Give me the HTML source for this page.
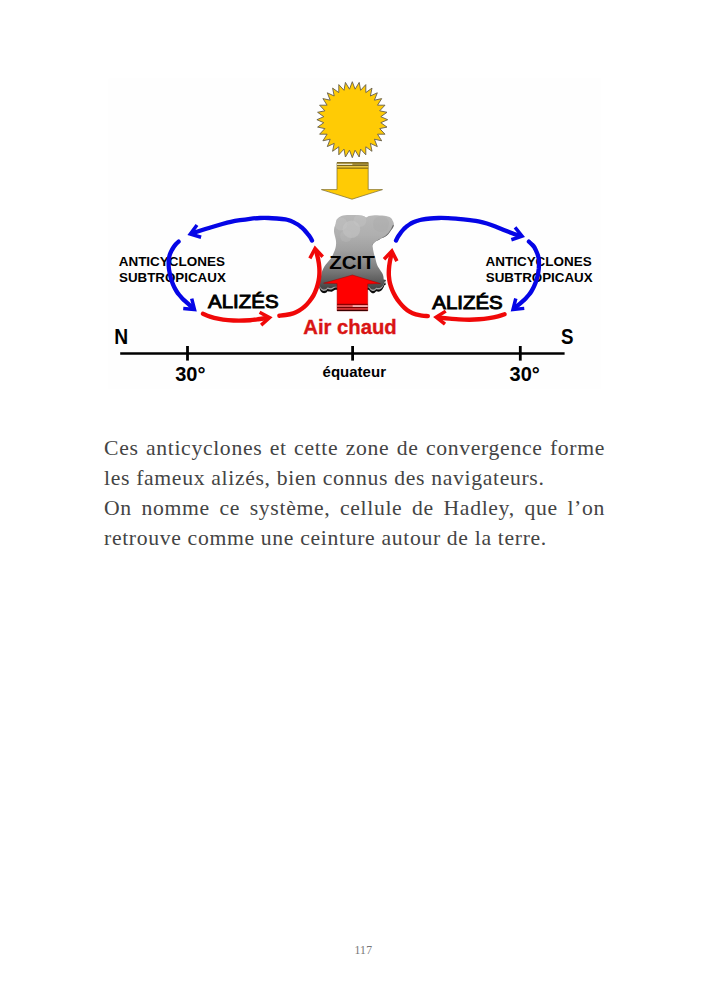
<!DOCTYPE html>
<html><head><meta charset="utf-8">
<style>
html,body{margin:0;padding:0;background:#fff;}
body{width:709px;height:992px;position:relative;overflow:hidden;font-family:"Liberation Serif",serif;}
svg{position:absolute;left:0;top:0;}
.t{position:absolute;left:104px;width:501px;font-family:"Liberation Serif",serif;font-size:21.7px;line-height:30px;color:#444;letter-spacing:0.66px;white-space:nowrap;}
.j{text-align:justify;text-align-last:justify;}
.pn{position:absolute;left:354.4px;top:943.4px;font-family:"Liberation Serif",serif;font-size:11.7px;line-height:16px;color:#777;letter-spacing:0.3px;}
</style></head><body>
<svg width="709" height="992" viewBox="0 0 709 992">
<defs>
<linearGradient id="cg" x1="0" y1="215" x2="0" y2="293" gradientUnits="userSpaceOnUse">
<stop offset="0" stop-color="#b8b8b8"/><stop offset="0.26" stop-color="#afafaf"/><stop offset="0.45" stop-color="#a0a0a0"/><stop offset="0.6" stop-color="#8c8c8c"/><stop offset="0.73" stop-color="#757575"/><stop offset="0.83" stop-color="#606060"/><stop offset="0.91" stop-color="#4c4c4c"/><stop offset="1" stop-color="#3c3c3c"/>
</linearGradient>
<clipPath id="cc"><path d="M335.6,223.9 C335.9,222.7 336.0,221.4 336.3,220.5 C336.6,219.6 337.1,219.2 337.7,218.6 C338.3,218.0 339.1,217.3 340.0,216.8 C340.9,216.3 341.8,215.9 343.0,215.6 C344.2,215.3 345.6,215.1 347.0,215.0 C348.4,214.9 349.9,214.9 351.4,214.9 C352.9,214.9 354.6,214.9 356.0,214.9 C357.4,214.9 358.6,215.0 359.9,215.2 C361.1,215.4 362.4,215.7 363.5,216.0 C364.6,216.3 365.4,217.3 366.3,217.3 C367.2,217.3 367.9,216.3 369.0,216.0 C370.1,215.7 371.3,215.5 372.6,215.4 C373.9,215.3 375.4,215.2 377.0,215.2 C378.6,215.2 380.6,215.5 382.1,215.6 C383.6,215.7 384.8,215.8 386.0,216.0 C387.2,216.2 388.6,216.6 389.5,217.0 C390.4,217.4 391.0,218.0 391.5,218.6 C392.0,219.2 392.3,220.0 392.7,220.7 C393.1,221.4 393.5,222.2 393.7,223.0 C393.9,223.8 393.9,224.7 393.8,225.5 C393.7,226.3 393.2,227.2 392.8,228.0 C392.4,228.8 391.7,229.4 391.1,230.2 C390.5,231.0 390.0,232.0 389.4,232.8 C388.8,233.6 388.1,234.3 387.4,235.0 C386.7,235.7 385.9,236.3 385.0,236.8 C384.1,237.3 383.0,237.7 382.1,238.1 C381.2,238.5 380.4,238.9 379.5,239.4 C378.6,239.9 377.7,240.3 376.8,240.8 C375.9,241.3 375.1,241.9 374.4,242.5 C373.7,243.1 372.9,243.7 372.6,244.5 C372.3,245.3 372.7,246.5 372.8,247.5 C372.9,248.5 373.0,249.2 373.2,250.3 C373.4,251.4 373.7,252.8 374.0,254.0 C374.3,255.2 374.8,256.2 375.2,257.5 C375.6,258.8 375.8,260.6 376.2,262.0 C376.6,263.4 377.0,264.8 377.6,266.0 C378.2,267.2 379.1,268.4 379.8,269.5 C380.5,270.6 381.4,271.7 382.0,272.8 C382.6,273.9 383.0,274.9 383.3,276.0 C383.6,277.1 383.6,278.3 383.7,279.5 C383.8,280.7 383.8,281.9 383.6,283.0 C383.4,284.1 383.1,285.2 382.5,285.8 C381.9,286.4 382.4,286.4 380.0,286.6 C377.6,286.8 375.2,286.8 368.0,286.8 C360.8,286.8 344.5,286.8 337.0,286.8 C329.5,286.8 325.8,286.8 323.0,286.6 C320.2,286.4 320.6,286.3 320.0,285.8 C319.4,285.3 319.5,284.2 319.6,283.5 C319.7,282.8 320.2,282.6 320.4,281.5 C320.6,280.4 320.7,278.5 320.9,277.0 C321.1,275.5 321.3,274.0 321.7,272.6 C322.1,271.2 322.6,269.8 323.3,268.5 C324.0,267.2 324.7,265.9 325.6,264.7 C326.5,263.5 327.6,262.3 328.5,261.2 C329.4,260.1 330.2,259.4 331.0,258.3 C331.8,257.2 332.4,255.8 333.0,254.5 C333.6,253.2 334.3,251.6 334.8,250.3 C335.3,249.0 335.6,247.7 335.8,246.5 C336.0,245.3 336.1,243.9 336.1,242.9 C336.1,241.9 336.0,241.3 335.9,240.5 C335.8,239.7 335.6,239.0 335.4,238.0 C335.2,237.0 334.7,235.6 334.5,234.5 C334.3,233.4 334.0,232.5 334.0,231.3 C334.0,230.1 334.0,228.7 334.3,227.5 C334.6,226.3 335.3,225.1 335.6,223.9 Z"/></clipPath>
</defs>
<rect x="108.5" y="78.5" width="492.5" height="310.5" fill="#fefefe"/>
<!-- sun -->
<polygon points="352.3,81.7 355.1,89.2 359.2,82.4 360.6,90.3 365.8,84.6 365.8,92.6 372.0,88.1 370.4,96.0 377.3,92.8 374.4,100.2 381.7,98.6 377.5,105.2 385.0,105.2 379.7,110.8 387.0,112.3 380.8,116.7 387.7,119.7 380.8,122.7 387.0,127.1 379.7,128.6 385.0,134.2 377.5,134.2 381.7,140.8 374.4,139.2 377.3,146.6 370.4,143.4 372.0,151.3 365.8,146.8 365.8,154.8 360.6,149.1 359.2,157.0 355.1,150.2 352.3,157.7 349.5,150.2 345.4,157.0 344.0,149.1 338.8,154.8 338.8,146.8 332.6,151.3 334.2,143.4 327.3,146.6 330.2,139.2 322.9,140.8 327.1,134.2 319.6,134.2 324.9,128.6 317.6,127.1 323.8,122.7 316.9,119.7 323.8,116.7 317.6,112.3 324.9,110.8 319.6,105.2 327.1,105.2 322.9,98.6 330.2,100.2 327.3,92.8 334.2,96.0 332.6,88.1 338.8,92.6 338.8,84.6 344.0,90.3 345.4,82.4 349.5,89.2" fill="#ffcb05" stroke="#665e4c" stroke-width="0.9" stroke-linejoin="miter"/>
<!-- yellow arrow -->
<polygon points="337,162.6 368.2,162.6 368.2,189.6 382.5,189.6 352,199.2 321.4,189.6 337,189.6" fill="#ffcb05" stroke="#7a6a30" stroke-width="0.7"/>
<rect x="337" y="162.3" width="31.2" height="1.4" fill="#6e5c1e"/>
<rect x="337" y="163.7" width="15.5" height="1.3" fill="#ebe4c6"/>
<rect x="352.5" y="163.7" width="15.7" height="1.3" fill="#a08c44"/>
<rect x="337" y="165" width="31.2" height="1.3" fill="#7a6620"/>
<rect x="337" y="166.3" width="31.2" height="1.2" fill="#f2d25a"/>
<rect x="337" y="167.5" width="31.2" height="1.3" fill="#8a7018"/>
<!-- cloud -->
<path d="M319.2,285.0 C319.1,286.0 319.3,287.7 319.6,288.8 C319.9,289.9 320.6,291.1 321.2,291.8 C321.8,292.5 322.7,293.0 323.5,293.1 C324.3,293.2 325.3,293.0 326.0,292.7 C326.7,292.4 327.0,291.4 327.6,291.2 C328.2,291.0 328.8,291.5 329.5,291.6 C330.2,291.7 330.9,291.9 331.6,291.7 C332.4,291.5 333.1,290.7 334.0,290.4 C334.9,290.1 334.0,289.8 337.0,289.7 C340.0,289.6 346.9,289.7 352.0,289.7 C357.1,289.7 364.6,289.5 367.5,289.7 C370.4,289.9 368.9,290.5 369.6,291.0 C370.3,291.5 371.0,292.6 371.8,292.9 C372.6,293.2 373.6,293.2 374.4,292.9 C375.2,292.6 375.7,291.5 376.4,291.3 C377.1,291.1 377.7,291.8 378.4,291.7 C379.1,291.6 379.9,291.4 380.6,291.0 C381.3,290.6 382.0,289.8 382.6,289.0 C383.2,288.2 383.9,287.0 384.0,286.0 C384.1,285.0 388.8,283.7 383.5,283.0 C378.2,282.3 362.6,282.0 352.0,282.0 C341.4,282.0 325.5,282.5 320.0,283.0 C314.5,283.5 319.3,284.0 319.2,285.0 Z" fill="#0c0c0c"/>
<path d="M319.2,285.0 C319.1,286.0 319.3,287.7 319.6,288.8 C319.9,289.9 320.6,291.1 321.2,291.8 C321.8,292.5 322.7,293.0 323.5,293.1 C324.3,293.2 325.3,293.0 326.0,292.7 C326.7,292.4 327.0,291.4 327.6,291.2 C328.2,291.0 328.8,291.5 329.5,291.6 C330.2,291.7 330.9,291.9 331.6,291.7 C332.4,291.5 333.1,290.7 334.0,290.4 C334.9,290.1 334.0,289.8 337.0,289.7 C340.0,289.6 346.9,289.7 352.0,289.7 C357.1,289.7 364.6,289.5 367.5,289.7 C370.4,289.9 368.9,290.5 369.6,291.0 C370.3,291.5 371.0,292.6 371.8,292.9 C372.6,293.2 373.6,293.2 374.4,292.9 C375.2,292.6 375.7,291.5 376.4,291.3 C377.1,291.1 377.7,291.8 378.4,291.7 C379.1,291.6 379.9,291.4 380.6,291.0 C381.3,290.6 382.0,289.8 382.6,289.0 C383.2,288.2 383.9,287.0 384.0,286.0 C384.1,285.0 388.8,283.7 383.5,283.0 C378.2,282.3 362.6,282.0 352.0,282.0 C341.4,282.0 325.5,282.5 320.0,283.0 C314.5,283.5 319.3,284.0 319.2,285.0 Z" fill="#a2a2a2" transform="translate(0,-2.1)"/>
<path d="M319.2,285.0 C319.1,286.0 319.3,287.7 319.6,288.8 C319.9,289.9 320.6,291.1 321.2,291.8 C321.8,292.5 322.7,293.0 323.5,293.1 C324.3,293.2 325.3,293.0 326.0,292.7 C326.7,292.4 327.0,291.4 327.6,291.2 C328.2,291.0 328.8,291.5 329.5,291.6 C330.2,291.7 330.9,291.9 331.6,291.7 C332.4,291.5 333.1,290.7 334.0,290.4 C334.9,290.1 334.0,289.8 337.0,289.7 C340.0,289.6 346.9,289.7 352.0,289.7 C357.1,289.7 364.6,289.5 367.5,289.7 C370.4,289.9 368.9,290.5 369.6,291.0 C370.3,291.5 371.0,292.6 371.8,292.9 C372.6,293.2 373.6,293.2 374.4,292.9 C375.2,292.6 375.7,291.5 376.4,291.3 C377.1,291.1 377.7,291.8 378.4,291.7 C379.1,291.6 379.9,291.4 380.6,291.0 C381.3,290.6 382.0,289.8 382.6,289.0 C383.2,288.2 383.9,287.0 384.0,286.0 C384.1,285.0 388.8,283.7 383.5,283.0 C378.2,282.3 362.6,282.0 352.0,282.0 C341.4,282.0 325.5,282.5 320.0,283.0 C314.5,283.5 319.3,284.0 319.2,285.0 Z" fill="#484848" transform="translate(0,-3.6)"/>
<path d="M335.6,223.9 C335.9,222.7 336.0,221.4 336.3,220.5 C336.6,219.6 337.1,219.2 337.7,218.6 C338.3,218.0 339.1,217.3 340.0,216.8 C340.9,216.3 341.8,215.9 343.0,215.6 C344.2,215.3 345.6,215.1 347.0,215.0 C348.4,214.9 349.9,214.9 351.4,214.9 C352.9,214.9 354.6,214.9 356.0,214.9 C357.4,214.9 358.6,215.0 359.9,215.2 C361.1,215.4 362.4,215.7 363.5,216.0 C364.6,216.3 365.4,217.3 366.3,217.3 C367.2,217.3 367.9,216.3 369.0,216.0 C370.1,215.7 371.3,215.5 372.6,215.4 C373.9,215.3 375.4,215.2 377.0,215.2 C378.6,215.2 380.6,215.5 382.1,215.6 C383.6,215.7 384.8,215.8 386.0,216.0 C387.2,216.2 388.6,216.6 389.5,217.0 C390.4,217.4 391.0,218.0 391.5,218.6 C392.0,219.2 392.3,220.0 392.7,220.7 C393.1,221.4 393.5,222.2 393.7,223.0 C393.9,223.8 393.9,224.7 393.8,225.5 C393.7,226.3 393.2,227.2 392.8,228.0 C392.4,228.8 391.7,229.4 391.1,230.2 C390.5,231.0 390.0,232.0 389.4,232.8 C388.8,233.6 388.1,234.3 387.4,235.0 C386.7,235.7 385.9,236.3 385.0,236.8 C384.1,237.3 383.0,237.7 382.1,238.1 C381.2,238.5 380.4,238.9 379.5,239.4 C378.6,239.9 377.7,240.3 376.8,240.8 C375.9,241.3 375.1,241.9 374.4,242.5 C373.7,243.1 372.9,243.7 372.6,244.5 C372.3,245.3 372.7,246.5 372.8,247.5 C372.9,248.5 373.0,249.2 373.2,250.3 C373.4,251.4 373.7,252.8 374.0,254.0 C374.3,255.2 374.8,256.2 375.2,257.5 C375.6,258.8 375.8,260.6 376.2,262.0 C376.6,263.4 377.0,264.8 377.6,266.0 C378.2,267.2 379.1,268.4 379.8,269.5 C380.5,270.6 381.4,271.7 382.0,272.8 C382.6,273.9 383.0,274.9 383.3,276.0 C383.6,277.1 383.6,278.3 383.7,279.5 C383.8,280.7 383.8,281.9 383.6,283.0 C383.4,284.1 383.1,285.2 382.5,285.8 C381.9,286.4 382.4,286.4 380.0,286.6 C377.6,286.8 375.2,286.8 368.0,286.8 C360.8,286.8 344.5,286.8 337.0,286.8 C329.5,286.8 325.8,286.8 323.0,286.6 C320.2,286.4 320.6,286.3 320.0,285.8 C319.4,285.3 319.5,284.2 319.6,283.5 C319.7,282.8 320.2,282.6 320.4,281.5 C320.6,280.4 320.7,278.5 320.9,277.0 C321.1,275.5 321.3,274.0 321.7,272.6 C322.1,271.2 322.6,269.8 323.3,268.5 C324.0,267.2 324.7,265.9 325.6,264.7 C326.5,263.5 327.6,262.3 328.5,261.2 C329.4,260.1 330.2,259.4 331.0,258.3 C331.8,257.2 332.4,255.8 333.0,254.5 C333.6,253.2 334.3,251.6 334.8,250.3 C335.3,249.0 335.6,247.7 335.8,246.5 C336.0,245.3 336.1,243.9 336.1,242.9 C336.1,241.9 336.0,241.3 335.9,240.5 C335.8,239.7 335.6,239.0 335.4,238.0 C335.2,237.0 334.7,235.6 334.5,234.5 C334.3,233.4 334.0,232.5 334.0,231.3 C334.0,230.1 334.0,228.7 334.3,227.5 C334.6,226.3 335.3,225.1 335.6,223.9 Z" fill="url(#cg)"/>
<g clip-path="url(#cc)">
<circle cx="351.4" cy="229.2" r="8.8" fill="#c8c8c8" opacity="0.5"/>
<circle cx="341" cy="224" r="6.5" fill="#c6c6c6" opacity="0.4"/>
<circle cx="359.9" cy="220.5" r="6.5" fill="#c6c6c6" opacity="0.4"/>
<circle cx="346" cy="236" r="6" fill="#c0c0c0" opacity="0.3"/>
<circle cx="381" cy="224" r="8" fill="#a8a8a8" opacity="0.35"/>
<path d="M394,225 C392,231 388,236 382,239 C378,241 374.5,243 372.8,245.5" fill="none" stroke="#5c5c5c" stroke-width="2.2" opacity="0.85"/>
</g>
<!-- red block arrow -->
<polygon points="352.4,275 380.4,283.6 367.7,283.9 367.7,310.9 337.1,310.9 337.1,283.6 323.6,283.2" stroke="#a00000" stroke-width="0.5" fill="#ff0000"/>
<rect x="337.1" y="303.8" width="30.6" height="1.5" fill="#8a0000"/>
<rect x="337.1" y="305.3" width="15.4" height="1.6" fill="#e26060"/>
<rect x="352.5" y="305.3" width="15.2" height="1.6" fill="#ffd4d4"/>
<rect x="337.1" y="306.9" width="30.6" height="1.3" fill="#700000"/>
<rect x="337.1" y="308.2" width="30.6" height="1.6" fill="#d24040"/>
<rect x="337.1" y="309.8" width="30.6" height="1.2" fill="#3c0000"/>
<!-- text labels -->
<g font-family="Liberation Sans, sans-serif" fill="#000">
<text x="329.2" y="268.6" font-size="18.9" font-weight="bold" textLength="45.6" lengthAdjust="spacingAndGlyphs">ZCIT</text>
<text x="208" y="308.3" font-size="18.1" textLength="70.6" lengthAdjust="spacingAndGlyphs" stroke="#000" stroke-width="0.9">ALIZÉS</text>
<text x="432.3" y="309.3" font-size="17.7" textLength="70.4" lengthAdjust="spacingAndGlyphs" stroke="#000" stroke-width="0.9">ALIZÉS</text>
<g font-weight="bold">
<text x="118.7" y="265.7" font-size="13" textLength="106.2" lengthAdjust="spacingAndGlyphs">ANTICYCLONES</text>
<text x="119" y="282.3" font-size="13" textLength="106.8" lengthAdjust="spacingAndGlyphs">SUBTROPICAUX</text>
<text x="485.5" y="265.7" font-size="13" textLength="106.2" lengthAdjust="spacingAndGlyphs">ANTICYCLONES</text>
<text x="485.8" y="282.3" font-size="13" textLength="106.8" lengthAdjust="spacingAndGlyphs">SUBTROPICAUX</text>
<text x="114.3" y="343.8" font-size="21.2" textLength="13.9" lengthAdjust="spacingAndGlyphs">N</text>
<text x="560.9" y="344" font-size="21.5" textLength="12.5" lengthAdjust="spacingAndGlyphs">S</text>
<text x="175.2" y="380.9" font-size="21" textLength="30.3" lengthAdjust="spacingAndGlyphs">30°</text>
<text x="509.5" y="380.9" font-size="21" textLength="30.3" lengthAdjust="spacingAndGlyphs">30°</text>
<text x="322.6" y="377" font-size="14.5" textLength="63.4" lengthAdjust="spacingAndGlyphs">équateur</text>
<text x="303.3" y="333.6" font-size="20" fill="#d91414" stroke="#d91414" stroke-width="0.35" textLength="93.4" lengthAdjust="spacingAndGlyphs">Air chaud</text>
</g>
</g>
<!-- axis -->
<g stroke="#000" fill="none">
<line x1="120.2" y1="353.5" x2="564.6" y2="353.5" stroke-width="2.4"/>
<line x1="187.5" y1="346" x2="187.5" y2="360.6" stroke-width="2.8"/>
<line x1="352.6" y1="346" x2="352.6" y2="360.6" stroke-width="2.8"/>
<line x1="520.3" y1="346" x2="520.3" y2="360.6" stroke-width="2.8"/>
</g>
<g stroke="#0505e6" stroke-width="4.3" fill="none" stroke-linecap="round" stroke-linejoin="round">
<path d="M312.0,240.6 C311.7,240.0 310.8,238.1 310.0,236.9 C309.2,235.8 308.3,234.8 307.4,233.7 C306.5,232.6 305.6,231.4 304.6,230.3 C303.6,229.2 302.6,228.3 301.5,227.3 C300.4,226.3 299.1,225.3 297.8,224.5 C296.5,223.7 295.2,223.0 293.8,222.3 C292.4,221.7 291.1,221.1 289.7,220.6 C288.3,220.1 287.5,219.7 285.4,219.3 C283.3,219.0 279.7,218.7 276.9,218.5 C274.1,218.3 271.3,218.1 268.5,218.0 C265.7,217.9 263.1,217.9 260.0,218.0 C256.9,218.1 253.3,218.4 250.0,218.8 C246.7,219.2 243.2,219.7 240.0,220.2 C236.8,220.7 233.8,221.2 230.8,221.8 C227.9,222.4 225.1,223.2 222.3,224.0 C219.5,224.8 216.6,225.7 213.8,226.5 C211.0,227.3 208.2,228.1 205.4,229.0 C202.6,229.9 199.0,231.1 196.9,231.8 C194.8,232.5 193.7,232.9 193.0,233.1 "/>
<path d="M178.6,241.6 C178.1,242.0 176.6,243.3 175.8,244.2 C175.0,245.1 174.4,245.9 173.7,247.0 C173.0,248.1 172.2,249.4 171.5,250.7 C170.8,252.0 170.2,253.3 169.8,254.7 C169.4,256.1 169.0,257.6 168.8,259.0 C168.6,260.4 168.6,261.7 168.6,263.3 C168.6,264.9 168.7,266.8 168.9,268.5 C169.1,270.2 169.5,271.9 169.8,273.5 C170.1,275.1 170.5,276.7 170.9,278.3 C171.3,279.9 171.8,281.4 172.4,282.9 C173.0,284.4 173.6,285.9 174.3,287.3 C175.0,288.7 175.9,290.2 176.7,291.5 C177.5,292.8 178.4,293.9 179.3,295.0 C180.2,296.1 181.3,297.4 182.3,298.4 C183.3,299.4 184.2,300.3 185.2,301.2 C186.2,302.1 187.1,302.9 188.3,303.9 C189.5,304.9 191.6,306.8 192.3,307.4 "/>
<path d="M396.0,240.6 C396.3,239.9 397.2,237.9 398.0,236.6 C398.8,235.3 399.8,234.0 400.7,232.8 C401.6,231.6 402.5,230.5 403.5,229.4 C404.5,228.3 405.6,227.4 406.6,226.5 C407.7,225.6 408.7,224.9 409.8,224.2 C410.9,223.5 412.1,222.9 413.4,222.3 C414.7,221.7 416.1,221.2 417.5,220.8 C418.9,220.4 419.7,220.1 421.8,219.7 C423.9,219.3 427.5,218.8 430.3,218.5 C433.1,218.2 435.9,218.1 438.8,218.0 C441.8,217.9 444.8,218.0 448.0,218.1 C451.2,218.2 454.3,218.5 458.0,218.8 C461.7,219.2 466.6,219.8 470.0,220.2 C473.4,220.6 475.7,220.8 478.5,221.4 C481.3,222.0 484.1,222.7 486.9,223.5 C489.7,224.3 492.6,225.4 495.4,226.5 C498.2,227.6 501.0,228.8 503.8,229.9 C506.6,231.0 509.8,232.4 512.3,233.3 C514.8,234.2 517.9,235.2 519.0,235.6 "/>
<path d="M528.9,241.6 C529.4,242.0 530.8,243.3 531.7,244.2 C532.6,245.1 533.5,245.9 534.2,247.0 C534.9,248.1 535.4,249.4 536.0,250.7 C536.6,252.0 537.2,253.3 537.7,254.7 C538.2,256.1 538.6,257.6 538.8,259.0 C539.0,260.4 539.0,261.7 539.0,263.3 C539.0,264.9 538.9,266.8 538.8,268.5 C538.6,270.2 538.4,271.9 538.1,273.5 C537.8,275.1 537.4,276.7 537.0,278.3 C536.6,279.9 536.1,281.4 535.5,282.9 C534.9,284.4 534.3,285.9 533.6,287.3 C532.9,288.7 532.1,290.2 531.3,291.5 C530.5,292.8 529.6,293.9 528.7,295.0 C527.8,296.1 526.7,297.4 525.7,298.4 C524.7,299.4 523.8,300.3 522.8,301.2 C521.8,302.1 520.9,302.9 519.7,303.9 C518.5,304.9 516.2,306.8 515.5,307.4 "/>
</g>
<g fill="#0505e6">
<polygon points="187.4,235.0 200.6,238.9 201.6,235.6 193.2,233.1 198.4,226.0 195.6,223.9"/>
<polygon points="196.8,311.6 193.4,298.2 190.0,299.1 192.2,307.6 183.4,306.8 183.1,310.2"/>
<polygon points="525.0,237.1 516.4,226.3 513.7,228.4 519.2,235.3 510.8,238.1 511.9,241.4"/>
<polygon points="510.7,311.5 524.4,310.1 524.1,306.7 515.3,307.5 517.5,299.0 514.1,298.1"/>
</g>
<g stroke="#f00808" stroke-width="4.4" fill="none" stroke-linecap="round" stroke-linejoin="round">
<path d="M203.0,313.8 C204.2,314.3 207.3,315.8 210.0,316.6 C212.7,317.5 216.1,318.3 219.1,318.9 C222.1,319.5 224.7,319.8 228.0,320.1 C231.3,320.4 235.2,320.6 238.9,320.6 C242.6,320.6 246.8,320.4 250.0,320.2 C253.2,320.0 255.2,319.7 258.0,319.3 C260.8,318.9 265.5,318.1 267.0,317.9 "/>
<path d="M279.4,315.7 C280.4,315.6 283.2,315.4 285.5,315.0 C287.8,314.6 290.9,314.0 293.2,313.3 C295.4,312.6 297.1,311.7 299.0,310.6 C300.9,309.5 302.8,308.2 304.5,306.7 C306.2,305.2 307.8,303.4 309.3,301.5 C310.8,299.6 312.3,297.6 313.5,295.4 C314.7,293.2 315.6,290.9 316.5,288.5 C317.4,286.1 318.1,283.2 318.6,280.8 C319.1,278.4 319.3,276.3 319.4,274.0 C319.5,271.7 319.5,269.6 319.3,267.2 C319.1,264.8 318.7,261.9 318.2,259.5 C317.7,257.1 316.8,253.7 316.5,252.5 "/>
<path d="M504.6,314.2 C503.5,314.6 500.6,315.6 498.0,316.3 C495.4,317.0 492.3,317.7 489.1,318.2 C485.9,318.7 482.3,319.1 479.0,319.3 C475.7,319.6 472.7,319.7 469.4,319.7 C466.1,319.7 462.3,319.6 459.0,319.4 C455.7,319.2 452.9,318.9 449.6,318.6 C446.3,318.3 440.8,317.8 439.0,317.6 "/>
<path d="M427.8,316.1 C426.8,316.0 424.0,315.9 422.0,315.6 C420.0,315.3 417.9,315.0 415.8,314.4 C413.7,313.8 411.4,312.8 409.5,311.7 C407.6,310.6 406.1,309.4 404.5,307.9 C402.9,306.4 401.1,304.4 399.6,302.5 C398.1,300.6 396.7,298.7 395.5,296.6 C394.3,294.5 393.1,292.3 392.2,290.0 C391.3,287.7 390.4,285.3 389.9,283.0 C389.3,280.7 389.1,278.2 388.9,276.0 C388.7,273.8 388.8,271.8 388.9,269.5 C389.0,267.2 389.4,264.4 389.8,262.0 C390.2,259.6 391.0,256.2 391.2,255.0 "/>
</g>
<g fill="#f00808">
<polygon points="272.6,317.2 260.4,310.7 258.8,313.8 266.5,317.9 260.0,323.8 262.3,326.4"/>
<polygon points="314.7,245.4 308.3,257.6 311.4,259.3 315.5,251.5 321.4,257.9 324.0,255.6"/>
<polygon points="433.1,316.9 443.9,325.5 446.1,322.7 439.2,317.3 446.7,312.6 444.8,309.7"/>
<polygon points="392.3,248.0 382.8,258.0 385.3,260.4 391.4,254.0 395.3,261.9 398.5,260.3"/>
</g>
</svg>
<div class="t j" style="top:432.9px">Ces anticyclones et cette zone de convergence forme</div>
<div class="t" style="top:462.9px">les fameux alizés, bien connus des navigateurs.</div>
<div class="t j" style="top:493.2px">On nomme ce système, cellule de Hadley, que l’on</div>
<div class="t" style="top:522.9px">retrouve comme une ceinture autour de la terre.</div>
<div class="pn">117</div>
</body></html>
